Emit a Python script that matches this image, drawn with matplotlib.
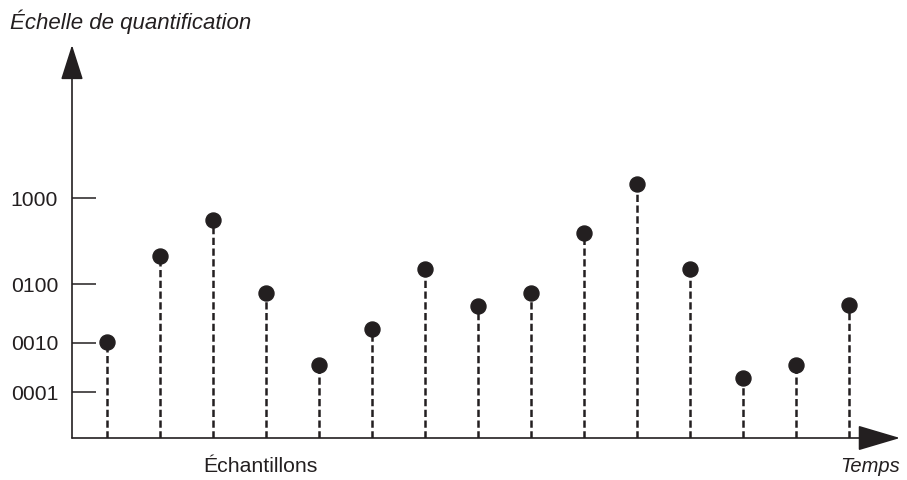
import numpy as np
import matplotlib
matplotlib.use('Agg')
import matplotlib.pyplot as plt

# quantification levels (height above the time axis, arbitrary units)
levelLabels = ['0001', '0010', '0100', '1000']
levelValues = [46, 95, 154, 240]

# sampled values, one per sample instant
sampleIndex = np.arange(15)
sampleValues = [96, 182, 218, 145, 73, 109, 169, 132, 145, 205, 254, 169, 60, 73, 133]

ink = '#231f20'
plt.rcParams['font.family'] = ['Liberation Sans', 'DejaVu Sans']

fig = plt.figure(figsize=(9.07, 4.8), dpi=100)
W, H = 907, 480
ax = fig.add_axes([72 / W, (H - 438) / H, (900 - 72) / W, (438 - 45) / H])
ax.set_xlim((72 - 107) / 53, (900 - 107) / 53)
ax.set_ylim(0, 393)
for s in ax.spines.values():
    s.set_visible(False)

# stems + points
ax.vlines(sampleIndex, 0, sampleValues, colors=ink, linestyles=(0, (2.9, 1.4)), linewidth=1.8)
ax.plot(sampleIndex, sampleValues, 'o', color=ink, markersize=10.8, zorder=3)

# axes with arrow heads
ax.annotate('', xy=(0, 1), xytext=(0, 0), xycoords='axes fraction',
            arrowprops=dict(arrowstyle='-|>,head_length=2.2,head_width=0.7', color=ink, lw=1.2,
                            shrinkA=0, shrinkB=0, mutation_scale=10))
ax.annotate('', xy=(1, 0), xytext=(0, 0), xycoords='axes fraction',
            arrowprops=dict(arrowstyle='-|>,head_length=2.7,head_width=0.8', color=ink, lw=1.2,
                            shrinkA=0, shrinkB=0, mutation_scale=10))

ax.set_xticks([])
ax.set_yticks(levelValues)
ax.set_yticklabels(levelLabels, fontsize=15.2, color=ink)
ax.tick_params(axis='y', direction='in', length=17.5, width=1.1, color=ink, pad=10)

fig.text(10 / W, 1 - 22 / H, 'Échelle de quantification', fontsize=16, style='italic',
         color=ink, va='center', ha='left')
fig.text(260 / W, 1 - 467 / H, 'Échantillons', fontsize=15.3, color=ink, va='center', ha='center')
fig.text(900 / W, 1 - 467 / H, 'Temps', fontsize=14.5, style='italic', color=ink,
         va='center', ha='right')

plt.savefig('out.png', dpi=100)
plt.close()
